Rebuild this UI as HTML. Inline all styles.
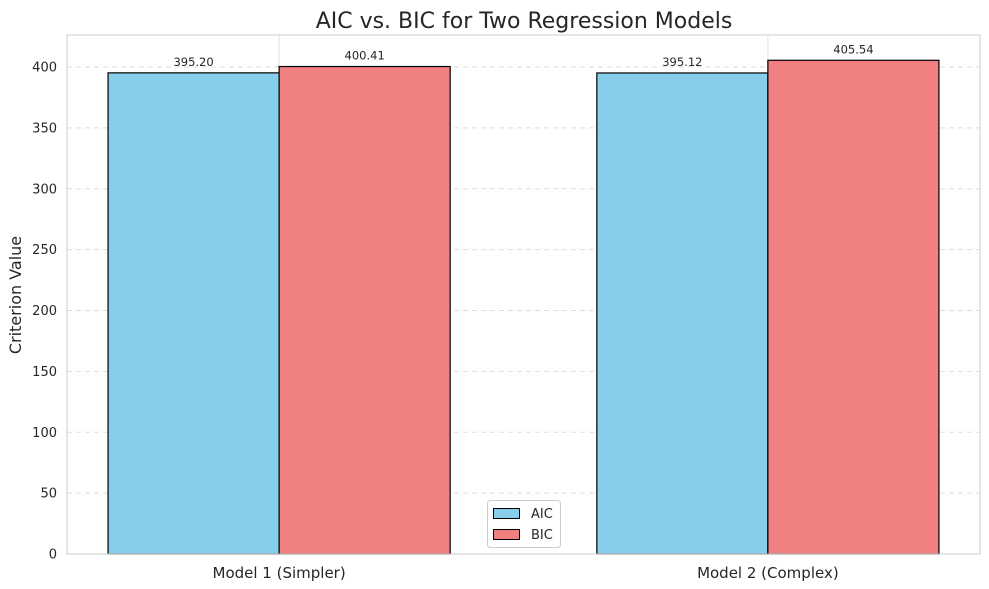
<!DOCTYPE html>
<html><head><meta charset="utf-8"><style>
body{margin:0;background:#fff;font-family:"DejaVu Sans","Liberation Sans",sans-serif;}
svg{display:block}
</style></head><body>
<svg id="chart" width="989" height="589">
<text x="524" y="28" text-anchor="middle" font-size="22" fill="#262626">AIC vs. BIC for Two Regression Models</text>
<text transform="translate(21,295) rotate(-90)" text-anchor="middle" font-size="16" fill="#262626">Criterion Value</text>
<g id="grid"></g><g id="bars"></g><g id="labels"></g>
<rect x="67" y="35" width="913" height="519" fill="none" stroke="#ccc" stroke-width="1"/>
<g>
<rect x="487.5" y="500.5" width="73" height="47" rx="3" fill="#fff" stroke="#ccc"/>
<rect x="493.5" y="508.5" width="26" height="10" fill="#87CEEB" stroke="#000"/>
<text x="531" y="518" font-size="13" fill="#262626">AIC</text>
<rect x="493.5" y="529.5" width="26" height="10" fill="#F08080" stroke="#000"/>
<text x="531" y="539" font-size="13" fill="#262626">BIC</text>
</g>
</svg>
<script>
const categories=["Model 1 (Simpler)","Model 2 (Complex)"];
const aicValues=[395.20,395.12];
const bicValues=[400.41,405.54];
const yTicks=[0,50,100,150,200,250,300,350,400];
const NS="http://www.w3.org/2000/svg";
const x0=67,x1=980,y0=554,y1=35;
const xMin=-0.434,xMax=1.434,yMax=426.3;
const xs=v=>x0+(v-xMin)/(xMax-xMin)*(x1-x0);
const ys=v=>y0-v/yMax*(y0-y1);
function mk(t,a,p){const e=document.createElementNS(NS,t);for(const k in a)e.setAttribute(k,a[k]);p.appendChild(e);return e;}
const grid=document.getElementById('grid'),bars=document.getElementById('bars'),labels=document.getElementById('labels');
yTicks.forEach(t=>{
 const y=ys(t);
 if(t>0){const l=mk('line',{x1:x0,x2:x1,y1:y,y2:y,stroke:'#ddd','stroke-dasharray':'5,4'},grid);
 
 }
 const tx=mk('text',{x:x0-10,y:y+4.5,'text-anchor':'end','font-size':13,fill:'#262626'},grid);
 tx.textContent=t;
 
 
});
categories.forEach((c,i)=>{
 const l=mk('line',{x1:xs(i),x2:xs(i),y1:y1,y2:y0,stroke:'#e0e0e0'},grid);
 
 
 const tx=mk('text',{x:xs(i),y:578,'text-anchor':'middle','font-size':15,fill:'#262626'},grid);
 tx.textContent=c;
 
 
});
const w=0.35;
[[aicValues,'#87CEEB',-w,'aic'],[bicValues,'#F08080',0,'bic']].forEach(([vals,col,off,nm])=>{
 vals.forEach((v,i)=>{
  const xa=xs(i+off),xb=xs(i+off+w);
  const r=mk('rect',{x:xa,y:ys(v),width:xb-xa,height:y0-ys(v),fill:col,stroke:'#000','stroke-width':1.2},bars);
  
  
  const t=mk('text',{x:(xa+xb)/2,y:ys(v)-7,'text-anchor':'middle','font-size':11.5,fill:'#262626'},labels);
  t.textContent=v.toFixed(2);
  
  
 });
});
</script>
</body></html>
